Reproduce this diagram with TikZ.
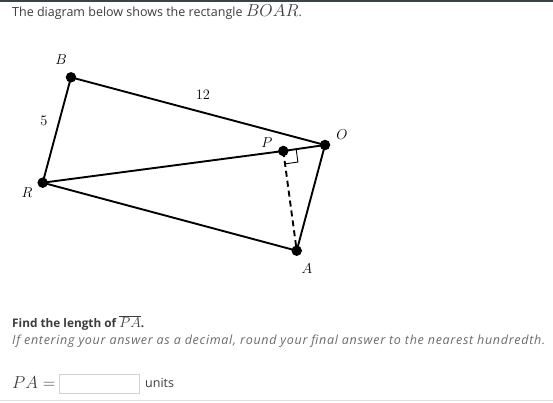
\documentclass[tikz,border=0pt]{standalone}
\usepackage{fontspec}
\setmainfont{Open Sans}
\usetikzlibrary{calc}
\definecolor{txt}{HTML}{3C3C3C}
\definecolor{itx}{HTML}{6A6A6A}
\definecolor{topbar}{HTML}{3A4448}
\begin{document}
\begin{tikzpicture}[x=1pt,y=-1pt,
  pt/.style={circle,fill=black,inner sep=0pt,minimum size=10.5pt},
  lbl/.style={inner sep=0pt,font=\fontsize{15}{15}\selectfont},
  side/.style={line width=1.9pt},
  body/.style={inner sep=0pt,anchor=west,text=txt,font=\fontsize{12.5}{12.5}\selectfont}]
\useasboundingbox (0,0) rectangle (553,402);
\fill[topbar] (0,0) rectangle (553,1.5);
\draw[gray!25,line width=1pt] (0,400.5) -- (553,400.5);
% vertices
\coordinate (B) at (71,77.3);
\coordinate (O) at (325,145);
\coordinate (A) at (296.7,250.7);
\coordinate (R) at (42.7,182.7);
\coordinate (P) at (283.3,151);
\draw[side] (B) -- (O) -- (A) -- (R) -- cycle;
\draw[side] (R) -- (P);
\draw[side] (P) -- (O);
\draw[side,dashed,dash pattern=on 6pt off 4pt] (P) -- (A);
\draw[line width=0.9pt] ($(P)!13pt!(O)$) -- ($($(P)!13pt!(O)$)+($(P)!13pt!(A)$)-(P)$) -- ($(P)!13pt!(A)$);
\foreach \v in {B,O,A,R,P} \node[pt] (d\v) at (\v) {};
\node[lbl] (lB) at (61,60) {$B$};
\node[lbl] (lO) at (342,135) {$O$};
\node[lbl] (lA) at (307,269) {$A$};
\node[lbl] (lR) at (27,193) {$R$};
\node[lbl] (lP) at (267,143) {$P$};
\node[lbl,font=\fontsize{14}{14}\selectfont] (l12) at (203,95) {$12$};
\node[lbl,font=\fontsize{14}{14}\selectfont] (l5) at (44,121) {$5$};
% texts
\node[body] (t1) at (12,12) {The diagram below shows the rectangle {\fontsize{16}{16}\selectfont$BOAR$}.};
\node[body,font=\fontsize{11.8}{12}\selectfont\bfseries] (t2) at (12,323) {Find the length of {\fontsize{15}{15}\selectfont\mdseries$\overline{PA}$}.};
\node[body,text=itx,font=\fontsize{12.5}{12.5}\selectfont\itshape\addfontfeatures{LetterSpace=5.6}] (t3) at (12,341) {If entering your answer as a decimal, round your final answer to the nearest hundredth.};
\node[body,font=\fontsize{17}{17}\selectfont] (t4) at (12,383) {$PA=$};
\draw[gray!35,line width=0.8pt] (59.5,374) rectangle (139.5,393.5);
\node[body] (t5) at (145,383) {units};
\end{tikzpicture}
\end{document}
